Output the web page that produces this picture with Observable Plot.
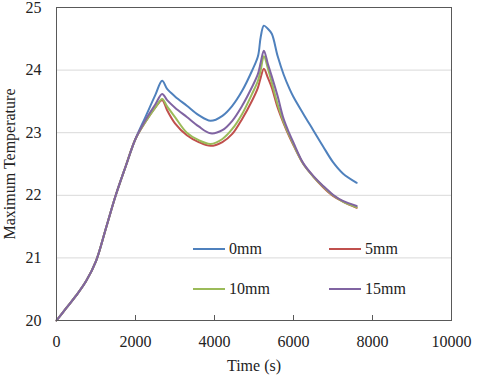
<!DOCTYPE html>
<html><head><meta charset="utf-8">
<script src="https://cdn.jsdelivr.net/npm/d3@7"></script>
<script src="https://cdn.jsdelivr.net/npm/@observablehq/plot@0.6"></script>
<style>
body{margin:0;background:#fff;}
#wrap{position:relative;width:480px;height:375px;font-family:'Liberation Serif','DejaVu Serif','Noto Serif',Times,serif;}
#wrap svg text{font-family:'Liberation Serif','DejaVu Serif','Noto Serif',Times,serif;}
.leg{position:absolute;font-size:16px;line-height:16px;height:16px;color:#222;display:flex;align-items:center;white-space:nowrap;}
.leg .sw{display:inline-block;width:32px;height:2px;margin-right:4px;}
</style></head><body><div id="wrap"></div>
<script>
const seriesNames = ["0mm", "5mm", "10mm", "15mm"];
const seriesColors = ["#4F81BD", "#C0504D", "#9BBB59", "#8064A2"];
const time = [0,250,500,750,1000,1250,1500,1750,2000,2250,2500,2675,2800,3000,3300,3600,3900,4200,4450,4700,4950,5100,5170,5250,5350,5450,5600,5750,5900,6000,6250,6500,6750,7000,7250,7600];
const mm0  = [20,20.2,20.4,20.63,20.95,21.47,22.0,22.46,22.9,23.25,23.6,23.83,23.7,23.58,23.43,23.28,23.19,23.27,23.43,23.67,23.99,24.22,24.53,24.71,24.66,24.58,24.22,23.93,23.7,23.57,23.3,23.04,22.78,22.53,22.35,22.2];
const mm5  = [20,20.2,20.4,20.63,20.95,21.47,22.0,22.46,22.9,23.17,23.4,23.52,23.36,23.15,22.96,22.85,22.79,22.85,22.98,23.22,23.51,23.72,23.88,24.02,23.88,23.72,23.4,23.15,22.93,22.8,22.5,22.3,22.13,21.99,21.9,21.8];
const mm10 = [20,20.2,20.4,20.63,20.95,21.47,22.0,22.46,22.9,23.17,23.4,23.54,23.42,23.25,23.0,22.88,22.82,22.9,23.06,23.3,23.62,23.83,24.0,24.22,24.03,23.8,23.45,23.17,22.95,22.81,22.5,22.3,22.14,22.0,21.9,21.81];
const mm15 = [20,20.2,20.4,20.63,20.95,21.47,22.0,22.46,22.9,23.2,23.45,23.62,23.52,23.4,23.25,23.1,22.99,23.04,23.19,23.43,23.73,23.94,24.12,24.31,24.1,23.9,23.58,23.22,22.98,22.84,22.51,22.31,22.15,22.01,21.91,21.83];
const xTicks = [0,2000,4000,6000,8000,10000];
const yTicks = [20,21,22,23,24,25];
const gridValues = [21,22,23,24];

const allSeries = [mm0, mm5, mm10, mm15];
const data = [];
allSeries.forEach((vals, i) => vals.forEach((v, j) => data.push({series: seriesNames[i], t: time[j], v})));

const chart = Plot.plot({
  width: 480, height: 375,
  marginLeft: 56, marginRight: 29, marginTop: 7, marginBottom: 55,
  style: {fontSize: "16px", color: "#222", background: "#fff"},
  x: {domain: [0, 10000]},
  y: {domain: [20, 25]},
  color: {domain: seriesNames, range: seriesColors},
  marks: [
    Plot.gridY(gridValues, {stroke: "#d9d9d9", strokeOpacity: 1, strokeWidth: 1}),
    Plot.line(data, {x: "t", y: "v", stroke: "series", strokeWidth: 2, curve: "catmull-rom", z: "series"}),
    Plot.tickX(xTicks.slice(1, -1), {x: d => d, insetTop: 308, stroke: "#595959"}),
    Plot.frame({stroke: "#595959", strokeWidth: 1}),
    Plot.axisX(xTicks, {tickSize: 0, tickPadding: 15, tickFormat: d => String(d), label: "Time (s)", labelAnchor: "center", labelOffset: 50, labelArrow: "none"}),
    Plot.axisY(yTicks, {tickSize: 0, tickPadding: 15, tickFormat: d => String(d), label: "Maximum Temperature", labelAnchor: "center", labelOffset: 53, labelArrow: "none"})
  ]
});
const wrap = document.getElementById("wrap");
wrap.appendChild(chart);

const legendPos = [[193, 241], [329, 241], [193, 281], [329, 281]];
seriesNames.forEach((name, i) => {
  const d = document.createElement("div");
  d.className = "leg";
  d.style.left = legendPos[i][0] + "px";
  d.style.top = legendPos[i][1] + "px";
  d.innerHTML = `<span class="sw" style="background:${seriesColors[i]}"></span><span>${name}</span>`;
  wrap.appendChild(d);
});
</script>
</body></html>
